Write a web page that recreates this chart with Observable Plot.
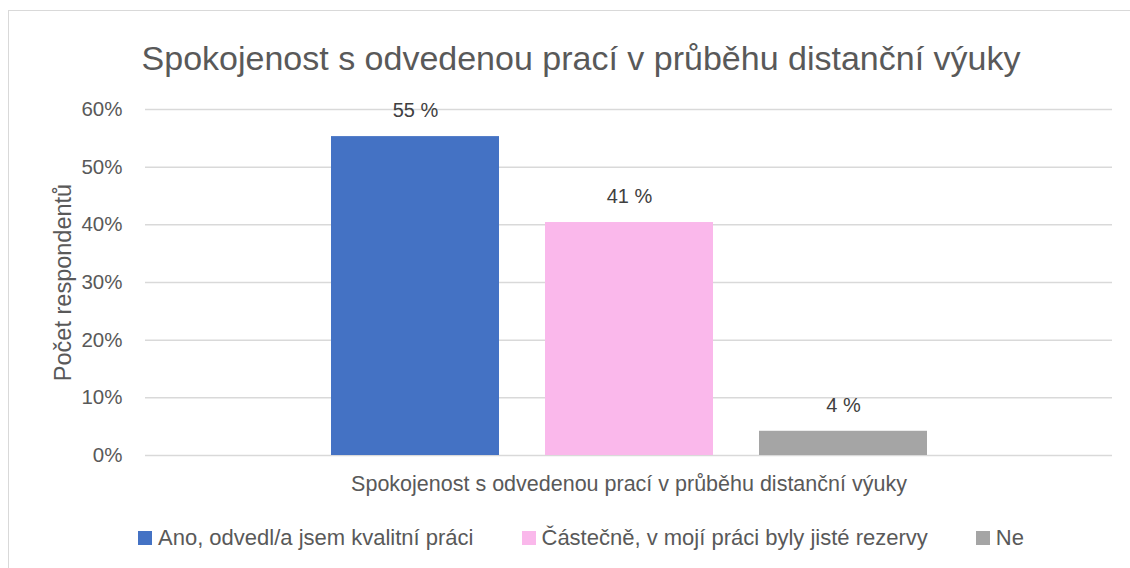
<!DOCTYPE html>
<html>
<head>
<meta charset="utf-8">
<script src="https://cdn.jsdelivr.net/npm/d3@7"></script>
<script src="https://cdn.jsdelivr.net/npm/@observablehq/plot@0.6"></script>
<style>
  html, body { margin: 0; padding: 0; background: #fff; }
  body { width: 1130px; height: 568px; position: relative; overflow: hidden; font-family: "Liberation Sans", Arial, sans-serif; color: #595959; }
  #frame { position: absolute; left: 8px; top: 10px; width: 1130px; height: 580px; border: 1px solid #D9D9D9; box-sizing: border-box; }
  #title { position: absolute; left: 0; width: 1162px; top: 41px; text-align: center; font-size: 34px; line-height: 34px; color: #595959; white-space: nowrap; }
  #chart { position: absolute; left: 0; top: 0; }
  #legend { position: absolute; left: 138px; top: 527px; display: flex; align-items: center; font-size: 22px; line-height: 22px; color: #595959; white-space: nowrap; }
  .item { display: flex; align-items: center; margin-right: 48px; }
  .sw { width: 14px; height: 14px; margin-right: 6px; }
</style>
</head>
<body>
<div id="frame"></div>
<div id="chart"></div>
<div id="title"></div>
<div id="legend"></div>
<script>
const chartTitle = "Spokojenost s odvedenou prací v průběhu distanční výuky";
const category = "Spokojenost s odvedenou prací v průběhu distanční výuky";
const series = ["Ano, odvedl/a jsem kvalitní práci", "Částečně, v mojí práci byly jisté rezervy", "Ne"];
const values = [55.3, 40.4, 4.2];
const valueLabels = ["55 %", "41 %", "4 %"];
const colors = ["#4472C4", "#FAB8EB", "#A5A5A5"];
const yTicks = [0, 10, 20, 30, 40, 50, 60];
const yTitle = "Počet respondentů";

const data = series.map((s, i) => ({category, series: s, value: values[i], label: valueLabels[i]}));

document.getElementById("title").textContent = chartTitle;

const chart = Plot.plot({
  width: 1130,
  height: 500,
  marginTop: 109,
  marginBottom: 45,
  marginLeft: 145,
  marginRight: 18,
  style: {fontFamily: "'Liberation Sans', Arial, sans-serif", color: "#595959", background: "transparent", overflow: "visible"},
  fx: {domain: [category], padding: 0, label: null},
  x: {domain: series, paddingInner: 0.215, paddingOuter: 0.863, axis: null},
  y: {domain: [0, 60], label: null},
  color: {domain: series, range: colors},
  marks: [
    Plot.gridY(yTicks, {stroke: "#D9D9D9", strokeOpacity: 1, strokeWidth: 1.5}),
    Plot.axisY(yTicks, {tickSize: 0, tickPadding: 23, tickFormat: d => d + "%", fontSize: 20.5, label: null}),
    Plot.axisFx({anchor: "bottom", tickSize: 0, tickPadding: 20, fontSize: 21.5, label: null}),
    Plot.barY(data, {fx: "category", x: "series", y: "value", fill: "series"}),
    Plot.text(data, {fx: "category", x: "series", y: "value", text: "label", dy: -26, fontSize: 20, fill: "#404040"}),
    Plot.text([yTitle], {frameAnchor: "left", textAnchor: "middle", rotate: -90, dx: -82, fontSize: 23.5, fill: "#595959"})
  ]
});
document.getElementById("chart").appendChild(chart);

const legend = document.getElementById("legend");
series.forEach((s, i) => {
  const item = document.createElement("div");
  item.className = "item";
  const sw = document.createElement("div");
  sw.className = "sw";
  sw.style.background = colors[i];
  const t = document.createElement("span");
  t.textContent = s;
  item.appendChild(sw);
  item.appendChild(t);
  legend.appendChild(item);
});
</script>
</body>
</html>
